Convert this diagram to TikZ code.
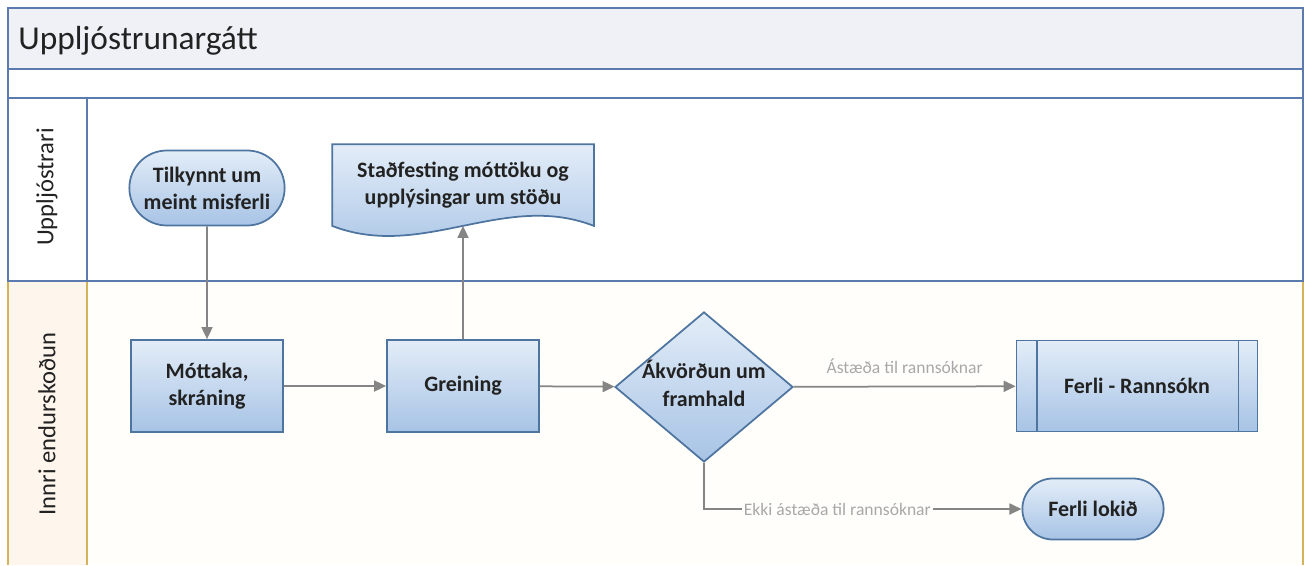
\documentclass[tikz,border=0pt]{standalone}
\usepackage{fontspec}
\setmainfont{Carlito}
\usetikzlibrary{shapes.geometric,shapes.misc,arrows.meta}

\definecolor{lanebl}{HTML}{5B7BAE}
\definecolor{lanegd}{HTML}{D6B25A}
\definecolor{titlefl}{HTML}{F0F1F6}
\definecolor{peachfl}{HTML}{FEF5EC}
\definecolor{creamfl}{HTML}{FFFEFA}
\definecolor{shpln}{HTML}{4E74A0}
\definecolor{shptop}{HTML}{E3EDF8}
\definecolor{shpbot}{HTML}{A7C3E5}
\definecolor{arrgr}{HTML}{858585}
\definecolor{lblgr}{HTML}{A8A8A8}
\definecolor{txtdk}{HTML}{222222}

\pgfdeclarelayer{bg}
\pgfsetlayers{bg,main}

\begin{document}
\begin{tikzpicture}[x=0.2mm, y=-0.2mm,
    >={Triangle[length=2.4mm,width=2.2mm]},
    shp/.style={draw=shpln, line width=0.35mm, top color=shptop, bottom color=shpbot,
      text=txtdk, font=\fontsize{12.5}{15.5}\selectfont\bfseries, align=center},
    proc/.style={shp, rectangle, minimum width=30.4mm, minimum height=18.4mm},
    term/.style={shp, rounded rectangle, minimum width=33.4mm, minimum height=15mm},
    flow/.style={->, draw=arrgr, line width=0.35mm},
    lbl/.style={text=lblgr, font=\fontsize{10}{12}\selectfont},
    lane/.style={font=\fontsize{14}{16}\selectfont, text=txtdk, rotate=90}]

    \useasboundingbox (0,0) rectangle (1305,565);

    % swimlanes
    \fill[titlefl] (8,8) rectangle (1303,69);
    \fill[peachfl] (8,281) rectangle (87,565);
    \fill[creamfl] (87,281) rectangle (1303,565);
    \draw[lanebl, line width=0.45mm] (8,8) rectangle (1303,281);
    \draw[lanebl, line width=0.45mm] (8,69) -- (1303,69) (8,98) -- (1303,98) (87,98) -- (87,281);
    \draw[lanegd, line width=0.45mm] (8,282) -- (8,565) (87,282) -- (87,565) (1303,282) -- (1303,565);

    \node[anchor=west, inner sep=0, text=txtdk, font=\fontsize{19}{22}\selectfont] (title) at (18,41) {Uppljóstrunargátt};
    \node[lane] (lane1) at (47,187) {Uppljóstrari};
    \node[lane] (lane2) at (47,424) {Innri endurskoðun};

    \node[term] (tilk) at (207,188) {Tilkynnt um\\meint misferli};
    \node[shp, draw=none, shade=none, minimum width=52mm, minimum height=16mm] (stad) at (463,185) {Staðfesting móttöku og\\upplýsingar um stöðu};
    \node[proc] (mott) at (207,386) {Móttaka,\\skráning};
    \node[proc] (grein) at (463,386) {Greining};
    \node[shp, diamond, inner sep=0, minimum width=35.6mm, minimum height=30mm] (akv) at (704,387)
      {\makebox[0pt]{\begin{tabular}{@{}c@{}}Ákvörðun um\\framhald\end{tabular}}};
    \node[proc, minimum width=48.2mm, minimum height=18.2mm] (rann) at (1137,386) {Ferli - Rannsókn};
    \node[term, minimum width=30.6mm, minimum height=12.2mm] (lokid) at (1093,509) {Ferli lokið};

    % document and process sides
    \begin{pgfonlayer}{bg}
    \path[draw=shpln, line width=0.35mm, top color=shptop, bottom color=shpbot]
      (stad.south west) -- (stad.north west) -- (stad.north east) -- (stad.south east)
      .. controls +(-90,-35) and +(90,35) .. (stad.south west) -- cycle;
    \end{pgfonlayer}
    \draw[shpln, line width=0.35mm] ([xshift=4.2mm]rann.north west) -- ([xshift=4.2mm]rann.south west)
      ([xshift=-4mm]rann.north east) -- ([xshift=-4mm]rann.south east);

    \draw[flow] (tilk) to (mott);
    \draw[flow] (mott) to (grein);
    \draw[flow] (grein) to (stad);
    \draw[flow] (grein) to (akv);
    \draw[flow] (akv) to node[lbl, above=1.2mm] {Ástæða til rannsóknar} (rann);
    \draw[flow] (akv) |- node[lbl, pos=0.71, fill=creamfl, inner sep=1pt] {Ekki ástæða til rannsóknar} (lokid);

\end{tikzpicture}
\end{document}
